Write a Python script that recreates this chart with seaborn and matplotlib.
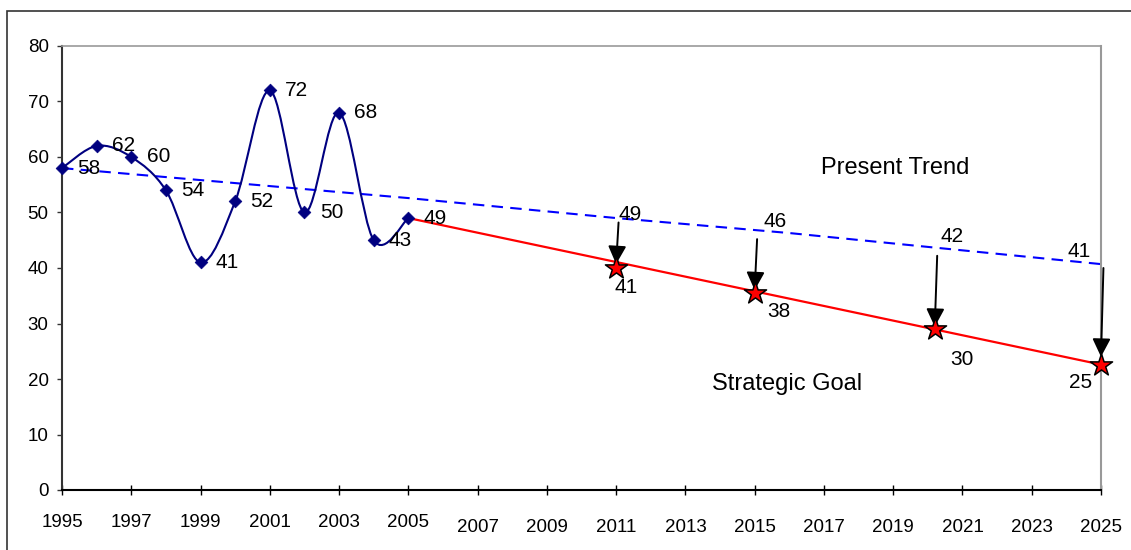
import numpy as np
import matplotlib
matplotlib.use('Agg')
from matplotlib import pyplot as plt
from matplotlib.path import Path
from matplotlib.patches import PathPatch, Rectangle
import seaborn as sns

# actual values 1995-2005
hist_years = [1995, 1996, 1997, 1998, 1999, 2000, 2001, 2002, 2003, 2004, 2005]
hist_vals = [58, 62, 60, 54, 41, 52, 72, 50, 68, 45, 49]
hist_labels = ['58', '62', '60', '54', '41', '52', '72', '50', '68', '43', '49']

# present trend (dashed)
trend_years = [1995, 2000, 2005, 2011, 2016, 2020, 2025]
trend_vals = [58, 55.3, 52.6, 49, 46.3, 43.8, 40.7]
trend_labels = ['49', '46', '42', '41']

# strategic goal (red line + stars)
goal_line_years = [2005, 2025]
goal_line_vals = [49, 22.6]
star_years = [2011, 2015, 2020.2, 2025]
star_vals = [40.0, 35.5, 29.0, 22.6]
goal_labels = ['41', '38', '30', '25']

# arrows from trend down to stars
arrow_top = [48.2, 45.2, 42.2, 40.0]
arrow_tip = [40.7, 36.0, 29.4, 24.0]

xticks = list(range(1995, 2026, 2))


def smooth_path(xs, ys):
    """Excel-like smoothed line as cubic bezier path"""
    p = np.column_stack([xs, ys]).astype(float)
    n = len(p)
    verts = [p[0]]
    codes = [Path.MOVETO]
    for i in range(n - 1):
        prev = p[max(i - 1, 0)]
        nxt = p[min(i + 2, n - 1)]
        c1 = p[i] + (p[i + 1] - prev) / 6
        c2 = p[i + 1] - (nxt - p[i]) / 6
        verts += [c1, c2, p[i + 1]]
        codes += [Path.CURVE4] * 3
    return Path(verts, codes)


sns.set_theme(style='white')
plt.rcParams['font.family'] = ['Liberation Sans', 'DejaVu Sans']
plt.rcParams['text.color'] = 'black'

fig = plt.figure(figsize=(11.31, 5.5), dpi=100)
ax = fig.add_axes([62 / 1131, 1 - 490 / 550, (1101 - 62) / 1131, (490 - 46) / 550])

# outer frame
fig.patches.append(Rectangle((7 / 1131, -0.1), 1.2, 1 - 11 / 550 + 0.1, transform=fig.transFigure,
                             fill=False, edgecolor='#333333', linewidth=1.2, clip_on=False))

# trend and goal lines
sns.lineplot(x=trend_years, y=trend_vals, ax=ax, color='#0000ff', linewidth=1.5,
             linestyle=(0, (5.5, 3.5)))
sns.lineplot(x=goal_line_years, y=goal_line_vals, ax=ax, color='#ff0000', linewidth=1.6)

# smoothed actual line
ax.add_patch(PathPatch(smooth_path(hist_years, hist_vals), facecolor='none',
                       edgecolor='#000080', linewidth=1.5, zorder=3))
sns.scatterplot(x=hist_years, y=hist_vals, ax=ax, marker='D', s=42, color='#000080',
                edgecolor='#000080', linewidth=0.5, zorder=4, clip_on=False)

for yr, v, lab in zip(hist_years, hist_vals, hist_labels):
    ax.annotate(lab, (yr, v), xytext=(11, 0), textcoords='offset points',
                ha='left', va='center', fontsize=15)

# arrows
for yr, top, tip in zip(star_years, arrow_top, arrow_tip):
    ax.annotate('', xy=(yr, tip), xytext=(yr + 0.07, top),
                arrowprops=dict(arrowstyle='-|>,head_length=0.5,head_width=0.25', color='black',
                                lw=1.4, mutation_scale=22, shrinkA=0, shrinkB=0), zorder=5)

sns.scatterplot(x=star_years, y=star_vals, ax=ax, marker='*', s=280, color='#ff0000',
                edgecolor='black', linewidth=1.1, zorder=6, clip_on=False)

# trend value labels
trend_offsets = [(2, 6), (6, 13), (4, 14), (-24, 12)]
for yr, top, lab, off in zip(star_years, arrow_top, trend_labels, trend_offsets):
    ax.annotate(lab, (yr, top), xytext=off, textcoords='offset points',
                ha='left', va='center', fontsize=15)

# goal value labels
goal_offsets = [(-1, -14), (9, -13), (11, -22), (-23, -13)]
for yr, v, lab, off in zip(star_years, star_vals, goal_labels, goal_offsets):
    ax.annotate(lab, (yr, v), xytext=off, textcoords='offset points',
                ha='left', va='center', fontsize=15)

ax.text(0.8017, 0.725, 'Present Trend', transform=ax.transAxes, ha='center', va='center', fontsize=17)
ax.text(0.6978, 0.2387, 'Strategic Goal', transform=ax.transAxes, ha='center', va='center', fontsize=17)

ax.set_xlim(1995, 2025)
ax.set_ylim(0, 80)
ax.set_xticks(xticks)
ax.set_xticklabels([str(t) for t in xticks], fontsize=13.5)
ax.set_yticks(range(0, 81, 10))
ax.tick_params(axis='y', labelsize=13.5, labelcolor='black', direction='out', length=3.6, width=1,
               color='#333333', pad=6, left=True)
ax.tick_params(axis='x', labelcolor='black', direction='inout', length=6.5, width=1, color='black',
               pad=14, bottom=True)
for t in ax.xaxis.get_major_ticks()[6:]:
    t.set_pad(17.5)
ax.set_xlabel('')
ax.set_ylabel('')

for side, col, lw in [('left', '#333333', 1.5), ('bottom', 'black', 1.5),
                      ('top', '#999999', 1.2), ('right', '#999999', 1.5)]:
    ax.spines[side].set_visible(True)
    ax.spines[side].set_color(col)
    ax.spines[side].set_linewidth(lw)

fig.savefig('out.png', dpi=100)
